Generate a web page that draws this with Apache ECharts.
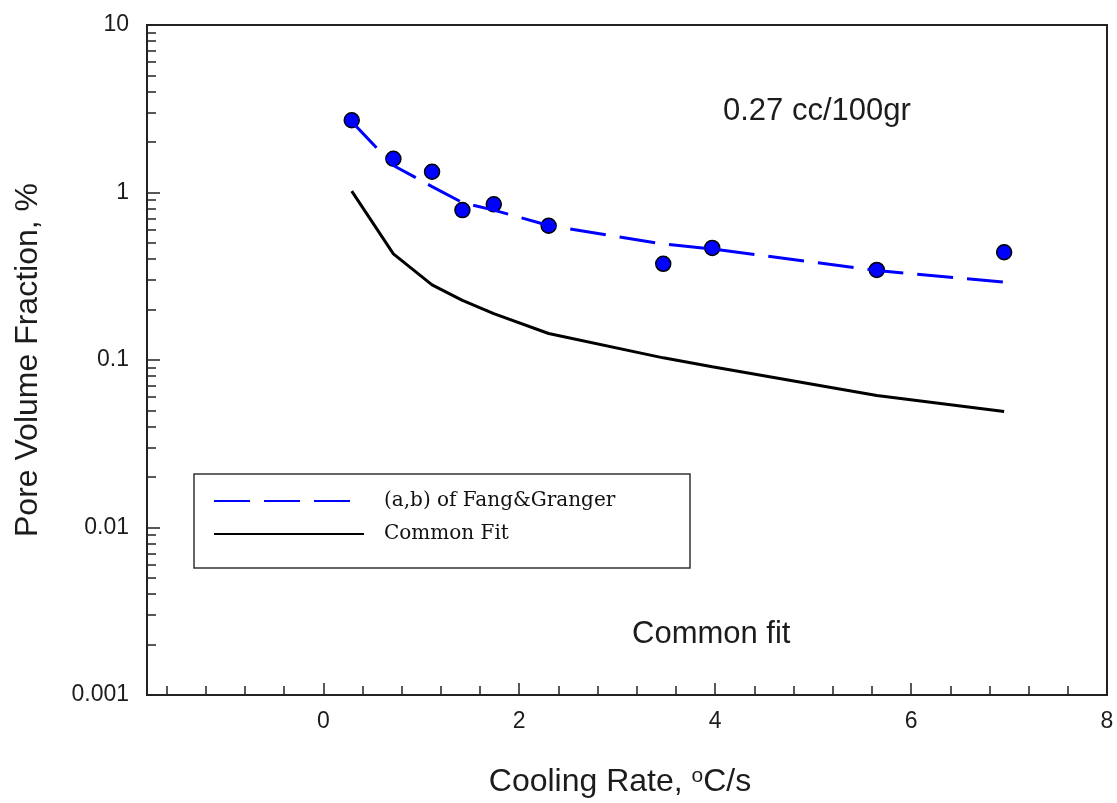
<!DOCTYPE html>
<html>
<head>
<meta charset="utf-8">
<title>Pore Volume Fraction vs Cooling Rate</title>
<script src="https://cdn.jsdelivr.net/npm/echarts@6/dist/echarts.min.js"></script>
<style>
  html, body { margin: 0; padding: 0; background: #ffffff; }
  #chart { width: 1117px; height: 803px; }
</style>
</head>
<body>
<div id="chart"></div>
<script>
// Measured pore volume fraction (%) at each cooling rate (°C/s)
const coolingRate = [0.29, 0.715, 1.11, 1.42, 1.74, 2.30, 3.47, 3.97, 5.65, 6.95];
const poreFraction = [2.70, 1.59, 1.33, 0.785, 0.85, 0.633, 0.375, 0.467, 0.345, 0.44];

// Fitted curves evaluated at the same cooling rates
const fangGrangerFit = [2.65, 1.45, 1.085, 0.87, 0.785, 0.635, 0.493, 0.46, 0.342, 0.292];
const commonFit = [1.02, 0.43, 0.281, 0.227, 0.189, 0.144, 0.103, 0.0912, 0.0614, 0.0493];

// Axis ticks
const xTickValues = [0, 2, 4, 6, 8];
const xMinorTicks = [-1.6, -1.2, -0.8, -0.4, 0.4, 0.8, 1.2, 1.6, 2.4, 2.8, 3.2, 3.6,
                     4.4, 4.8, 5.2, 5.6, 6.4, 6.8, 7.2, 7.6];
const yTickLabels = ['0.001', '0.01', '0.1', '1', '10'];
const yMinorTicks = [0.002, 0.003, 0.004, 0.005, 0.006, 0.007, 0.008, 0.009,
                     0.02, 0.03, 0.04, 0.05, 0.06, 0.07, 0.08, 0.09,
                     0.2, 0.3, 0.4, 0.5, 0.6, 0.7, 0.8, 0.9,
                     2, 3, 4, 5, 6, 7, 8, 9];

const SANS = '"Liberation Sans", Arial, sans-serif';
const SERIF = '"DejaVu Serif", "Liberation Serif", serif';
const INK = '#1c1c1c';

const zip = (xs, ys) => xs.map((x, i) => [x, ys[i]]);

const chart = echarts.init(document.getElementById('chart'), null, { renderer: 'canvas' });

const axisLineStyle = { color: '#222', width: 2 };

chart.setOption({
  animation: false,
  backgroundColor: '#ffffff',
  grid: {
    left: 147, right: 10, top: 25, bottom: 105,
    show: true, borderColor: '#222', borderWidth: 2
  },
  xAxis: [
    {
      type: 'value', min: -1.8, max: 8,
      name: 'Cooling Rate, {sup|o}C/s',
      nameLocation: 'middle', nameGap: 71,
      nameTextStyle: {
        fontFamily: SANS, fontSize: 32, color: INK, padding: [0, 14, 0, 0],
        rich: { sup: { fontFamily: SANS, fontSize: 21, color: INK, verticalAlign: 'top', lineHeight: 16 } }
      },
      axisLine: { show: true, onZero: false, lineStyle: axisLineStyle },
      axisTick: { show: true, inside: true, length: 12, customValues: xTickValues, lineStyle: { color: '#222', width: 1.5 } },
      axisLabel: { show: true, customValues: xTickValues, margin: 15, fontFamily: SANS, fontSize: 23, color: INK,
                   formatter: v => String(v) },
      splitLine: { show: false }
    },
    {
      type: 'value', min: -1.8, max: 8, position: 'bottom',
      axisLine: { show: false, onZero: false },
      axisTick: { show: true, inside: true, length: 9, customValues: xMinorTicks, lineStyle: { color: '#222', width: 1.5 } },
      axisLabel: { show: false },
      splitLine: { show: false }
    }
  ],
  yAxis: [
    {
      type: 'log', logBase: 10, min: 0.001, max: 10, splitNumber: 4,
      name: 'Pore Volume Fraction, %',
      nameLocation: 'middle', nameGap: 103, nameRotate: 90,
      nameTextStyle: { fontFamily: SANS, fontSize: 32, color: INK },
      axisLine: { show: true, onZero: false, lineStyle: axisLineStyle },
      axisTick: { show: true, inside: true, length: 13, lineStyle: { color: '#222', width: 1.5 } },
      axisLabel: {
        show: true, margin: 18, fontFamily: SANS, fontSize: 23, color: INK,
        formatter: v => yTickLabels[Math.round(Math.log10(v)) + 3]
      },
      splitLine: { show: false },
      minorTick: { show: false }
    },
    {
      type: 'value', min: -3, max: 1, position: 'left',
      axisLine: { show: false, onZero: false },
      axisTick: { show: true, inside: true, length: 9, customValues: yMinorTicks.map(v => Math.log10(v)),
                  lineStyle: { color: '#222', width: 1.5 } },
      axisLabel: { show: false },
      splitLine: { show: false }
    }
  ],
  legend: {
    data: ['(a,b) of Fang&Granger', 'Common Fit'],
    orient: 'vertical',
    left: 213, top: 490,
    itemWidth: 150, itemHeight: 22, itemGap: 11,
    padding: 0,
    selectedMode: false,
    itemStyle: { color: 'transparent', borderWidth: 0, opacity: 0 },
    textStyle: { fontFamily: SERIF, fontSize: 20, color: '#111', lineHeight: 14, padding: [8, 0, 0, 15] }
  },
  graphic: [
    {
      type: 'rect', z: 1,
      shape: { x: 194, y: 474, width: 496, height: 94 },
      style: { fill: 'none', stroke: '#333', lineWidth: 1.5 }
    },
    {
      type: 'text', x: 723, y: 111,
      style: { text: '0.27 cc/100gr', fontFamily: SANS, fontSize: 31, fill: INK, align: 'left', verticalAlign: 'middle' }
    },
    {
      type: 'text', x: 632, y: 634,
      style: { text: 'Common fit', fontFamily: SANS, fontSize: 31, fill: INK, align: 'left', verticalAlign: 'middle' }
    }
  ],
  series: [
    {
      name: 'Measured',
      type: 'scatter',
      xAxisIndex: 0, yAxisIndex: 0,
      data: zip(coolingRate, poreFraction),
      symbol: 'circle', symbolSize: 15,
      itemStyle: { color: '#0000ff', borderColor: '#000000', borderWidth: 1.5, opacity: 1 },
      z: 2
    },
    {
      name: '(a,b) of Fang&Granger',
      type: 'line',
      xAxisIndex: 0, yAxisIndex: 0,
      data: zip(coolingRate, fangGrangerFit),
      symbol: 'none', smooth: false,
      lineStyle: { color: '#0000ff', width: 3, type: [36, 14] },
      itemStyle: { color: '#0000ff' },
      z: 3
    },
    {
      name: 'Common Fit',
      type: 'line',
      xAxisIndex: 0, yAxisIndex: 0,
      data: zip(coolingRate, commonFit),
      symbol: 'none', smooth: false,
      lineStyle: { color: '#000000', width: 3 },
      itemStyle: { color: '#000000' },
      z: 3
    }
  ]
});
</script>
</body>
</html>
